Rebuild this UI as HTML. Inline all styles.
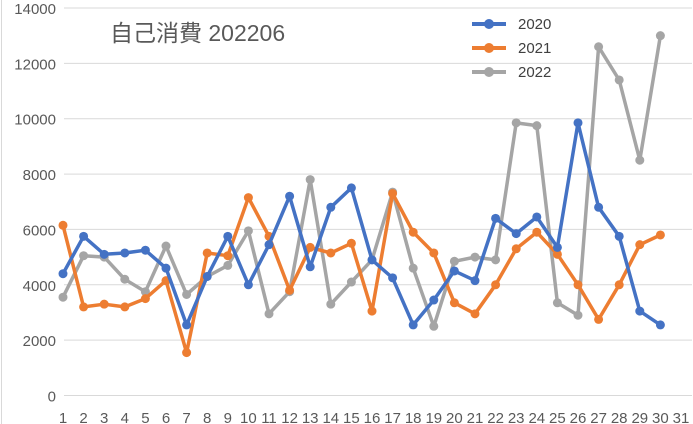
<!DOCTYPE html>
<html><head><meta charset="utf-8"><style>
html,body{margin:0;padding:0;background:#fff;}
svg{display:block;font-family:"Liberation Sans","Noto Sans CJK JP",sans-serif;}
</style></head><body>
<svg id="c" width="693" height="424" viewBox="0 0 693 424" xmlns="http://www.w3.org/2000/svg">
<rect x="0" y="0" width="693" height="424" fill="#fff"/>
<line x1="1.5" y1="0" x2="1.5" y2="424" stroke="#d9d9d9"/>
<g id="grid"></g>
<g id="series"></g>
<text x="110" y="41" font-size="23" fill="#595959">自己消費 202206</text>
<g font-size="15" fill="#404040">
<line x1="472" y1="24" x2="506" y2="24" stroke="#4472C4" stroke-width="4"/><circle cx="489" cy="24" r="5" fill="#4472C4"/><text x="518" y="29">2020</text>
<line x1="472" y1="48" x2="506" y2="48" stroke="#ED7D31" stroke-width="4"/><circle cx="489" cy="48" r="5" fill="#ED7D31"/><text x="518" y="53">2021</text>
<line x1="472" y1="72" x2="506" y2="72" stroke="#A5A5A5" stroke-width="4"/><circle cx="489" cy="72" r="5" fill="#A5A5A5"/><text x="518" y="77">2022</text>
</g>
</svg>
<script>
var ns="http://www.w3.org/2000/svg";
function Y(v){return 395.5-v*(395.5-8)/14000;}
function X(i){return 63+(i-1)*20.6;}
var g=document.getElementById('grid'),s='';
for(var v=0;v<=14000;v+=2000){var y=Y(v);s+='<line x1="64" y1="'+y+'" x2="692" y2="'+y+'" stroke="#d9d9d9" stroke-width="1"/>';
s+='<text x="56" y="'+(y+6)+'" font-size="15" fill="#595959" text-anchor="end">'+v+'</text>';}
for(var i=1;i<=31;i++){s+='<text x="'+X(i)+'" y="423" font-size="15" fill="#595959" text-anchor="middle">'+i+'</text>';}
g.innerHTML=s;
var d=[
["#A5A5A5",[3550,5050,5000,4200,3750,5400,3650,4300,4700,5950,2950,3750,7800,3300,4100,4900,7350,4600,2500,4850,5000,4900,9850,9750,3350,2900,12600,11400,8500,13000]],
["#ED7D31",[6150,3200,3300,3200,3500,4150,1550,5150,5050,7150,5750,3800,5350,5150,5500,3050,7300,5900,5150,3350,2950,4000,5300,5900,5100,4000,2750,4000,5450,5800]],
["#4472C4",[4400,5750,5100,5150,5250,4600,2550,4300,5750,4000,5450,7200,4650,6800,7500,4900,4250,2550,3450,4500,4150,6400,5850,6450,5350,9850,6800,5750,3050,2550]]];
var o='';
d.forEach(function(e){var p=e[1].map(function(v,i){return X(i+1).toFixed(1)+','+Y(v).toFixed(1)}).join(' ');
o+='<polyline points="'+p+'" fill="none" stroke="'+e[0]+'" stroke-width="3.5" stroke-linejoin="round"/>';
e[1].forEach(function(v,i){o+='<circle cx="'+X(i+1)+'" cy="'+Y(v)+'" r="4.5" fill="'+e[0]+'"/>';});});
document.getElementById('series').innerHTML=o;
</script>
</body></html>
